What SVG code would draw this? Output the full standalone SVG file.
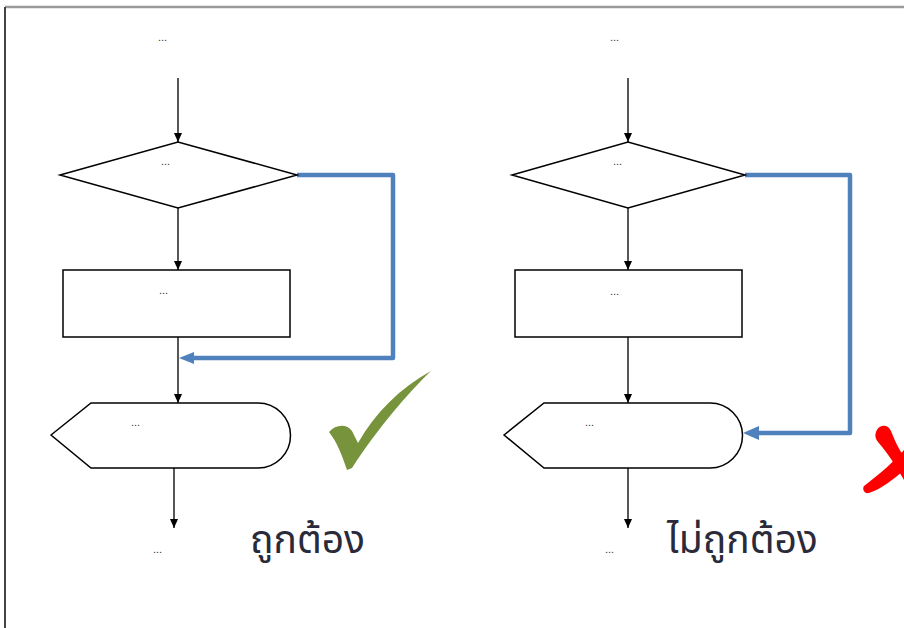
<svg xmlns="http://www.w3.org/2000/svg" width="904" height="628" viewBox="0 0 904 628">
<style>
.shape{fill:#fff;stroke:#000;stroke-width:1.5}
.conn{fill:none;stroke:#111;stroke-width:1.4}
.blue{fill:none;stroke:#4F81BD;stroke-width:4.5;stroke-linejoin:round}
.dots{font-family:"Liberation Sans",Arial,sans-serif;font-size:11px;fill:#333}
.thai{font-family:"Noto Sans Thai","Tahoma","Noto Sans","DejaVu Sans",sans-serif;font-size:39px;fill:#2a2a3a}
</style>
<defs>
<marker id="ah" markerWidth="10" markerHeight="10" refX="9" refY="5" orient="auto" markerUnits="userSpaceOnUse">
<path d="M0,1 L9,5 L0,9 Z" fill="#000"/>
</marker>
</defs>
<rect width="904" height="628" fill="#fff"/>
<path d="M5,7 H904" stroke="#9a9a9a" stroke-width="2.5"/>
<path d="M5,7 V628" stroke="#444" stroke-width="2"/>

<g id="connectors">
<path class="conn" d="M178,78 V142" marker-end="url(#ah)"/>
<path class="conn" d="M178,208 V270" marker-end="url(#ah)"/>
<path class="conn" d="M178,337 V403" marker-end="url(#ah)"/>
<path class="conn" d="M174,468 V528" marker-end="url(#ah)"/>
<path class="blue" d="M297,175 H393 V358 H194" />
<path d="M194,352 L179,358 L194,364 Z" fill="#4F81BD"/>
<path class="conn" d="M628,78 V142" marker-end="url(#ah)"/>
<path class="conn" d="M628,208 V270" marker-end="url(#ah)"/>
<path class="conn" d="M628,337 V403" stroke="#555" stroke-width="1.1" marker-end="url(#ah)"/>
<path class="conn" d="M628,468 V528" marker-end="url(#ah)"/>
<path class="blue" d="M745,175 H850 V433 H758"/>
<path d="M759,426 L743,433 L759,440 Z" fill="#4F81BD"/>
</g>

<g id="left-start"><text class="dots" x="158" y="41">...</text></g>
<g id="left-decision">
<path class="shape" d="M60,175 L178,142 L297,175 L178,208 Z"/>
<text class="dots" x="161" y="165" fill="#7a3b6a">...</text>
</g>
<g id="left-process">
<rect class="shape" x="63" y="270" width="227" height="67"/>
<text class="dots" x="159" y="294">...</text>
</g>
<g id="left-display">
<path class="shape" d="M51,435 L91,403 H258 A32.5,32.5 0 0 1 258,468 H91 Z"/>
<text class="dots" x="131" y="426">...</text>
</g>
<g id="left-end"><text class="dots" x="153" y="553">...</text></g>

<g id="right-start"><text class="dots" x="610" y="41">...</text></g>
<g id="right-decision">
<path class="shape" d="M512,175 L628,142 L745,175 L628,208 Z"/>
<text class="dots" x="613" y="165" fill="#7a3b6a">...</text>
</g>
<g id="right-process">
<rect class="shape" x="515" y="270" width="227" height="67" stroke="#333" stroke-width="1.1"/>
<text class="dots" x="610" y="295">...</text>
</g>
<g id="right-display">
<path class="shape" d="M504,435 L544,403 H710 A32.5,32.5 0 0 1 710,468 H544 Z"/>
<text class="dots" x="585" y="426" fill="#4a8ac0">...</text>
</g>
<g id="right-end"><text class="dots" x="605" y="553">...</text></g>

<g id="check">
<path d="M329,432 C336,424 347,424 352,431 L358,443 C375,413 400,388 431,371 C408,393 378,428 352,468 L347,470 C342,455 337,442 329,432 Z" fill="#77933C"/>
</g>
<g id="cross" fill="#f00">
<path d="M876,432 C879,424 888,424 891,431 C895,441 899,450 904,456 L904,480 C896,466 887,452 878,442 C875,438 875,435 876,432 Z"/>
<path d="M864,486 C874,478 888,468 904,450 L904,470 C893,480 881,489 869,493 C864,494 862,489 864,486 Z"/>
</g>

<text class="thai" x="250" y="553">ถูกต้อง</text>
<text class="thai" x="667" y="553">ไม่ถูกต้อง</text>
</svg>
